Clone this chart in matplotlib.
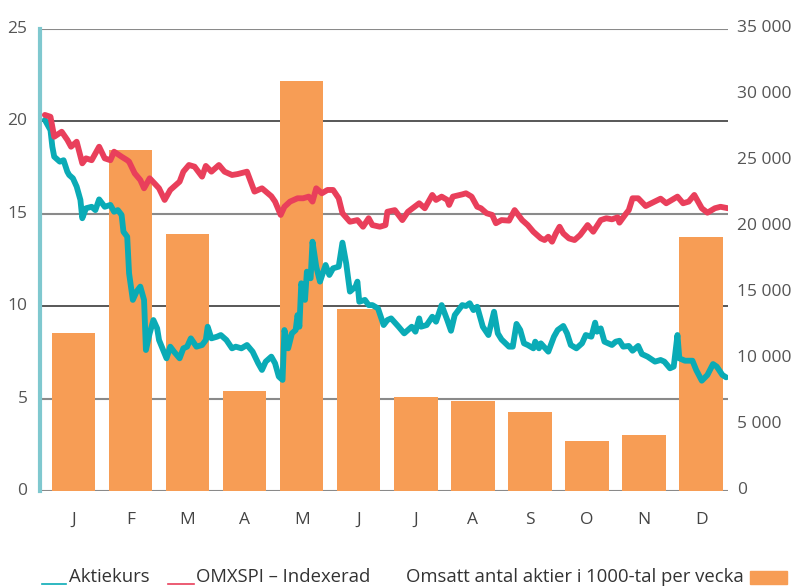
import numpy as np
import matplotlib
matplotlib.use('Agg')
import matplotlib.pyplot as plt
from matplotlib.lines import Line2D
from matplotlib.patches import Rectangle
from matplotlib.transforms import ScaledTranslation

plt.rcParams['font.family'] = ['Open Sans', 'DejaVu Sans']

# --- data ---
months = ['J', 'F', 'M', 'A', 'M', 'J', 'J', 'A', 'S', 'O', 'N', 'D']
# omsatt antal aktier i 1000-tal (right axis)
volume = [11970, 25800, 19450, 7580, 31050, 13800, 7120, 6820, 5980, 3790, 4240, 19250]

# red line (day of year, value)
red_day = [0, 3, 5, 9, 12, 14, 17, 20, 22, 25, 29, 32, 35, 37, 41, 44, 45, 48, 51, 53,
           56, 59, 61, 64, 67, 69, 72, 74, 77, 80, 84, 86, 89, 93, 96, 100, 103, 108, 112, 116,
           121, 123, 126, 128, 131, 135, 138, 141, 143, 145, 148, 151, 154, 157, 159, 163, 167, 170, 173, 175,
           179, 182, 183, 187, 191, 194, 200, 203, 207, 209, 212, 215, 216, 218, 223, 225, 228, 231, 233, 236,
           239, 241, 244, 248, 251, 255, 258, 261, 265, 267, 269, 271, 273, 275, 277, 280, 283, 286, 290, 293,
           297, 300, 303, 306, 307, 310, 312, 314, 317, 321, 324, 329, 332, 338, 341, 344, 347, 351, 354, 358,
           361, 365]
red_val = [20.35, 20.25, 19.17, 19.44, 19.0, 18.63, 18.9, 17.73, 18.0, 17.9, 18.63, 18.0, 17.9, 18.36, 18.09, 17.9, 17.82, 17.19, 16.83, 16.38,
           16.92, 16.6, 16.38, 15.75, 16.29, 16.47, 16.74, 17.28, 17.64, 17.55, 17.01, 17.59, 17.28, 17.64, 17.28, 17.1, 17.15, 17.28, 16.2, 16.38,
           15.95, 15.66, 14.94, 15.38, 15.66, 15.84, 15.84, 15.93, 15.66, 16.38, 16.11, 16.29, 16.29, 15.84, 15.03, 14.57, 14.66, 14.3, 14.76, 14.39,
           14.3, 14.39, 15.11, 15.2, 14.66, 15.11, 15.57, 15.3, 16.02, 15.75, 15.93, 15.75, 15.48, 15.93, 16.05, 16.11, 15.93, 15.38, 15.3, 15.03,
           14.94, 14.49, 14.66, 14.63, 15.2, 14.66, 14.39, 14.03, 13.67, 13.58, 13.76, 13.49, 13.94, 14.3, 13.94, 13.67, 13.58, 13.85, 14.39, 14.03,
           14.66, 14.76, 14.7, 14.81, 14.52, 14.94, 15.2, 15.84, 15.84, 15.42, 15.57, 15.82, 15.57, 15.93, 15.57, 15.66, 16.02, 15.3, 15.06, 15.3,
           15.38, 15.3]

# teal line (day of year, value)
teal_day = [0, 3, 4, 5, 8, 10, 12, 13, 15, 17, 19, 20, 22, 25, 27, 29, 32, 35, 37, 39,
            41, 42, 44, 45, 47, 49, 51, 53, 54, 56, 58, 60, 61, 65, 67, 69, 72, 74, 76, 78,
            81, 84, 86, 87, 89, 92, 94, 97, 100, 102, 105, 108, 111, 114, 116, 118, 121, 123, 125, 127,
            128, 130, 132, 134, 135, 136, 137, 139, 140, 142, 143, 145, 147, 150, 152, 154, 157, 159, 161, 163,
            166, 167, 168, 171, 173, 175, 178, 181, 183, 185, 189, 192, 196, 198, 200, 201, 204, 207, 209, 212,
            215, 217, 219, 223, 225, 227, 229, 231, 234, 237, 240, 242, 244, 248, 250, 252, 254, 256, 258, 261,
            262, 264, 265, 269, 272, 274, 277, 279, 281, 284, 287, 289, 292, 294, 295, 297, 299, 303, 305, 307,
            309, 312, 314, 317, 319, 322, 326, 329, 331, 334, 336, 338, 339, 342, 346, 348, 351, 354, 357, 359,
            362, 364]
teal_val = [20.08, 19.53, 18.63, 18.09, 17.82, 17.9, 17.28, 17.1, 16.92, 16.47, 15.75, 14.76, 15.3, 15.38, 15.2, 15.78, 15.38, 15.48, 15.11, 15.2,
            14.94, 14.03, 13.76, 11.78, 10.34, 10.79, 11.06, 10.34, 7.63, 8.53, 9.25, 8.8, 8.17, 7.18, 7.81, 7.54, 7.18, 7.72, 7.81, 8.26,
            7.81, 7.9, 8.17, 8.89, 8.26, 8.35, 8.44, 8.17, 7.72, 7.81, 7.72, 7.9, 7.54, 6.91, 6.55, 7.0, 7.27, 6.91, 6.19, 6.01,
            8.71, 7.72, 8.53, 8.71, 9.52, 8.89, 11.24, 10.34, 11.87, 11.51, 13.49, 12.14, 11.33, 12.23, 11.69, 12.05, 12.14, 13.44, 12.32, 10.79,
            11.06, 11.33, 10.24, 10.34, 10.06, 10.06, 9.88, 8.98, 9.25, 9.34, 8.89, 8.53, 8.89, 8.62, 9.34, 8.89, 8.98, 9.43, 9.16, 10.06,
            9.25, 8.67, 9.52, 10.06, 10.01, 10.16, 9.79, 9.97, 8.89, 8.44, 9.7, 8.53, 8.2, 7.81, 7.81, 9.04, 8.71, 7.99, 7.9, 7.72,
            8.08, 7.72, 7.99, 7.54, 8.35, 8.71, 8.93, 8.53, 7.9, 7.72, 7.99, 8.44, 8.35, 9.11, 8.62, 8.8, 8.08, 7.9, 8.08, 8.13,
            7.81, 7.85, 7.59, 7.85, 7.41, 7.27, 7.0, 7.09, 7.0, 6.64, 6.73, 8.44, 7.18, 7.05, 7.05, 6.55, 5.97, 6.28, 6.87, 6.73,
            6.28, 6.15]

left_ticks = [0, 5, 10, 15, 20, 25]
right_ticks = [0, 5000, 10000, 15000, 20000, 25000, 30000, 35000]

RED = '#e93f5b'
TEAL = '#0aabb6'
ORANGE = '#f79d55'
TXT = '#555555'

W, H = 798, 586
fig = plt.figure(figsize=(W / 100, H / 100), dpi=100)
rect = [42 / W, 1 - 491 / H, (728 - 42) / W, (491 - 29) / H]

# bars on the right-hand axis
ax = fig.add_axes(rect)
ax2 = ax.twinx()

x = np.arange(len(months))
ax.set_xlim(-0.55, 11.47)
ax.set_ylim(0, 35000)
scale = 35000 / 25
for t in left_ticks:
    if t in (10, 20):
        ax.axhline(t * scale, color='#2a2a2a', lw=1.1, zorder=0)
    else:
        ax.axhline(t * scale, color='#8a8a8a', lw=1.5, zorder=0)
ax.bar(x, volume, width=0.76, color=ORANGE, zorder=2)
ax.yaxis.tick_right()
ax.set_yticks(right_ticks)
ax.set_yticklabels([f'{v:,}'.replace(',', ' ') for v in right_ticks])
ax.tick_params(axis='y', length=0, pad=6.5, labelsize=12.5, labelcolor=TXT)
ax.set_xticks(x)
ax.set_xticklabels(months)
ax.tick_params(axis='x', length=0, pad=15, labelsize=12.5, labelcolor='#444444')
for s in ax.spines.values():
    s.set_visible(False)

# price lines on the left-hand axis
ax2.set_ylim(0, 25)
ax2.yaxis.tick_left()
ax2.set_yticks(left_ticks)
ax2.tick_params(axis='y', length=0, pad=9, labelsize=12.5, labelcolor=TXT)
for s in ['top', 'right', 'bottom']:
    ax2.spines[s].set_visible(False)
ax2.spines['left'].set_color('#7fc8cf')
ax2.spines['left'].set_linewidth(3)
ax2.spines['left'].set_position(('outward', 1.5))

# nudge the y labels up a little, as in the reference
for lab in ax.get_yticklabels():
    lab.set_transform(lab.get_transform() + ScaledTranslation(0, 3 / 100, fig.dpi_scale_trans))
for lab in ax2.get_yticklabels():
    lab.set_transform(lab.get_transform() + ScaledTranslation(0, 2 / 100, fig.dpi_scale_trans))

tx = np.array(teal_day) / 365 * 11.97 - 0.5
rx = np.array(red_day) / 365 * 11.97 - 0.5
ax2.plot(tx, teal_val, color=TEAL, lw=4.2, solid_joinstyle='round', solid_capstyle='round', zorder=3)
ax2.plot(rx, red_val, color=RED, lw=4.2, solid_joinstyle='round', solid_capstyle='round', zorder=4)

# legend at the bottom
ly = 1 - 584 / H
ty = 1 - 577 / H
fs = 13.3
fig.add_artist(Line2D([42 / W, 66 / W], [ly, ly], color=TEAL, lw=1.2))
fig.text(69 / W, ty, 'Aktiekurs', fontsize=fs, color='#333333', va='center')
fig.add_artist(Line2D([168 / W, 194 / W], [ly, ly], color=RED, lw=1.2))
fig.text(196 / W, ty, 'OMXSPI – Indexerad', fontsize=fs, color='#333333', va='center')
fig.text(406 / W, ty, 'Omsatt antal aktier i 1000-tal per vecka', fontsize=fs, color='#333333', va='center')
fig.add_artist(Rectangle((750 / W, 1 - 584 / H), 37 / W, 13 / H, color=ORANGE, transform=fig.transFigure))

fig.savefig('out.png', dpi=100)
